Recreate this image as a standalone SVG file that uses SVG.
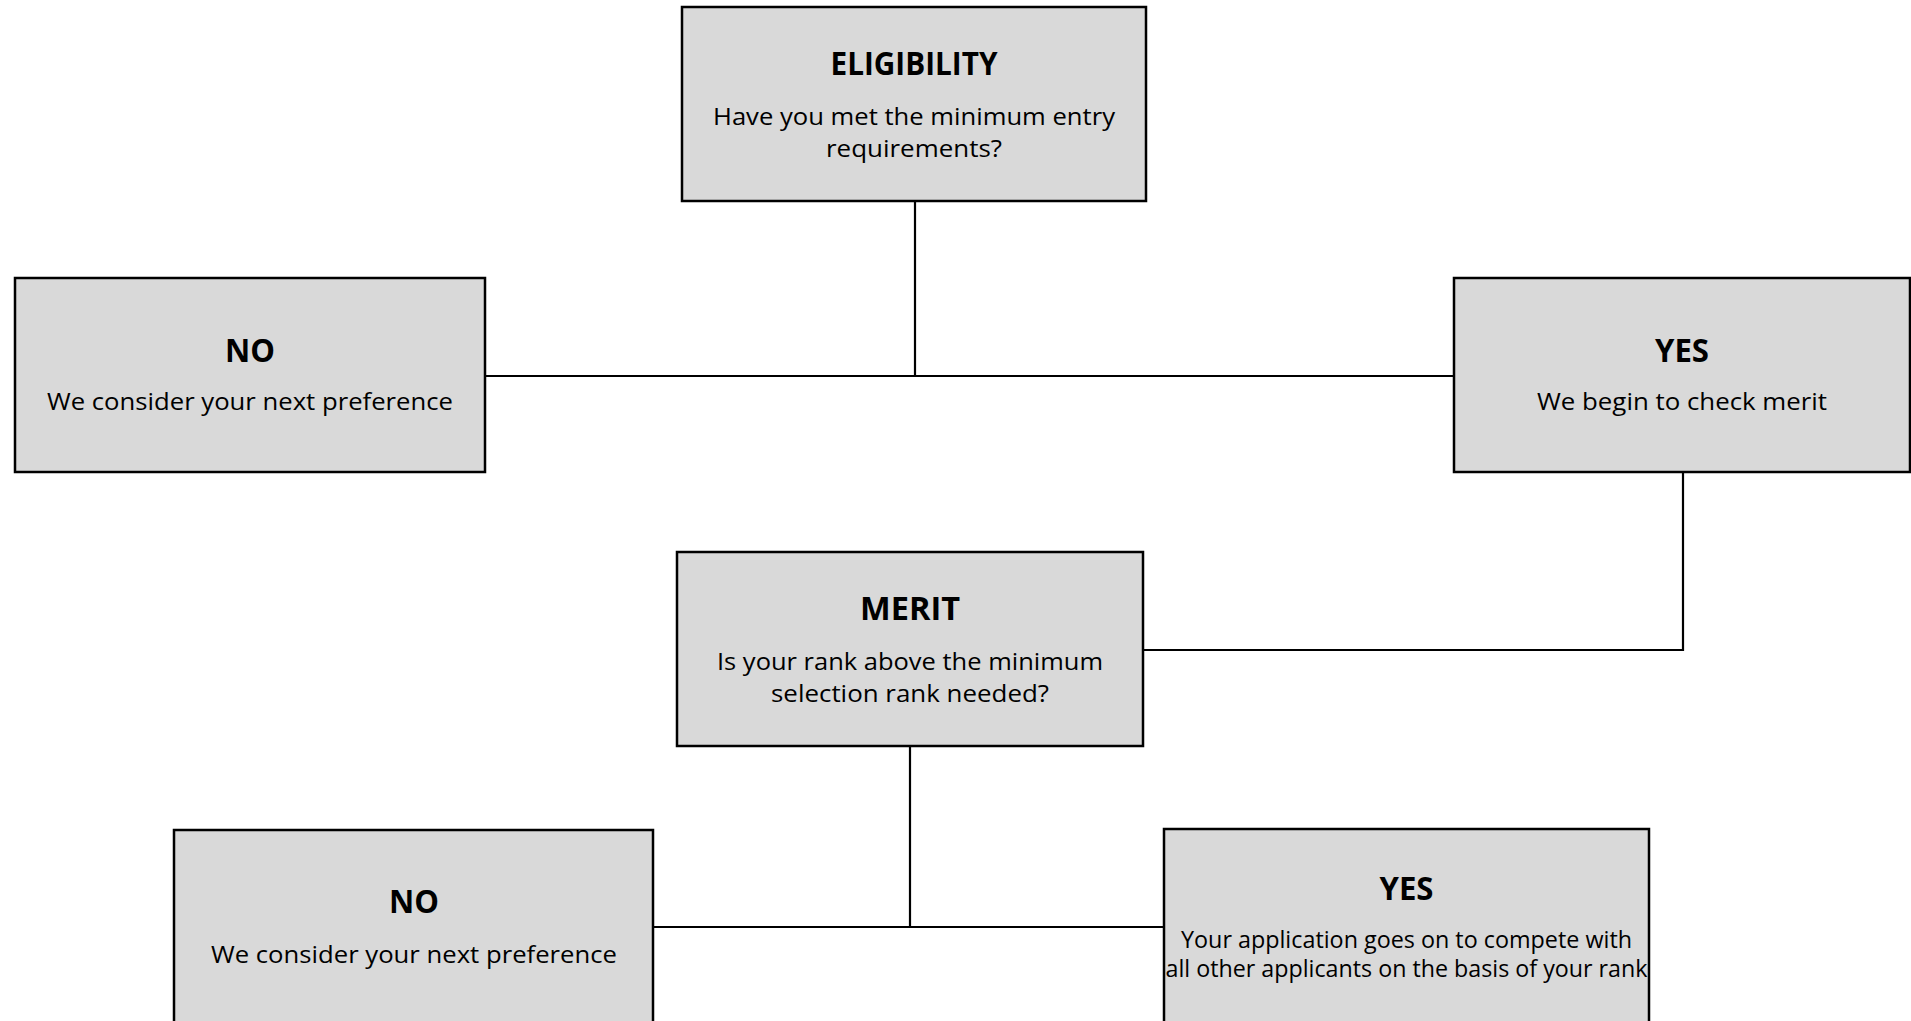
<svg xmlns="http://www.w3.org/2000/svg" width="1911" height="1021" viewBox="0 0 1911 1021">
<style>
.box{fill:#d9d9d9;stroke:#000;stroke-width:2.5}
.t{font-family:"Open Sans","Noto Sans","Liberation Sans",sans-serif;font-weight:bold;font-size:32.5px;fill:#000;text-anchor:middle}
.b{font-family:"Open Sans","Noto Sans","Liberation Sans",sans-serif;font-size:23.4px;fill:#000;text-anchor:middle}
.c{fill:none;stroke:#000;stroke-width:2.2}
</style>
<rect width="1911" height="1021" fill="#fff"/>
<g id="connectors">
<path class="c" d="M915 201V376M485 376H1454"/>
<path class="c" d="M1683 472V650H1143"/>
<path class="c" d="M910 746V927M653 927H1164"/>
</g>
<g id="eligibility">
<rect class="box" x="682" y="7" width="464" height="194"/>
<text class="t" x="914" y="75" textLength="167" lengthAdjust="spacingAndGlyphs">ELIGIBILITY</text>
<text class="b" x="914" y="125" textLength="402" lengthAdjust="spacingAndGlyphs">Have you met the minimum entry</text>
<text class="b" x="914" y="157" textLength="176" lengthAdjust="spacingAndGlyphs">requirements?</text>
</g>
<g id="no1">
<rect class="box" x="15" y="278" width="470" height="194"/>
<text class="t" x="250" y="362" textLength="50" lengthAdjust="spacingAndGlyphs">NO</text>
<text class="b" x="250" y="410" textLength="406" lengthAdjust="spacingAndGlyphs">We consider your next preference</text>
</g>
<g id="yes1">
<rect class="box" x="1454" y="278" width="456" height="194"/>
<text class="t" x="1682" y="362" textLength="54" lengthAdjust="spacingAndGlyphs">YES</text>
<text class="b" x="1682" y="410" textLength="290" lengthAdjust="spacingAndGlyphs">We begin to check merit</text>
</g>
<g id="merit">
<rect class="box" x="677" y="552" width="466" height="194"/>
<text class="t" x="910" y="620" textLength="100" lengthAdjust="spacingAndGlyphs">MERIT</text>
<text class="b" x="910" y="670" textLength="386" lengthAdjust="spacingAndGlyphs">Is your rank above the minimum</text>
<text class="b" x="910" y="702" textLength="278" lengthAdjust="spacingAndGlyphs">selection rank needed?</text>
</g>
<g id="no2">
<rect class="box" x="174" y="830" width="479" height="220"/>
<text class="t" x="414" y="913" textLength="50" lengthAdjust="spacingAndGlyphs">NO</text>
<text class="b" x="414" y="963" textLength="406" lengthAdjust="spacingAndGlyphs">We consider your next preference</text>
</g>
<g id="yes2">
<rect class="box" x="1164" y="829" width="485" height="220"/>
<text class="t" x="1406.5" y="900" textLength="54" lengthAdjust="spacingAndGlyphs">YES</text>
<text class="b" x="1406.5" y="948" textLength="451" lengthAdjust="spacingAndGlyphs">Your application goes on to compete with</text>
<text class="b" x="1406.5" y="977" textLength="482" lengthAdjust="spacingAndGlyphs">all other applicants on the basis of your rank</text>
</g>
</svg>
